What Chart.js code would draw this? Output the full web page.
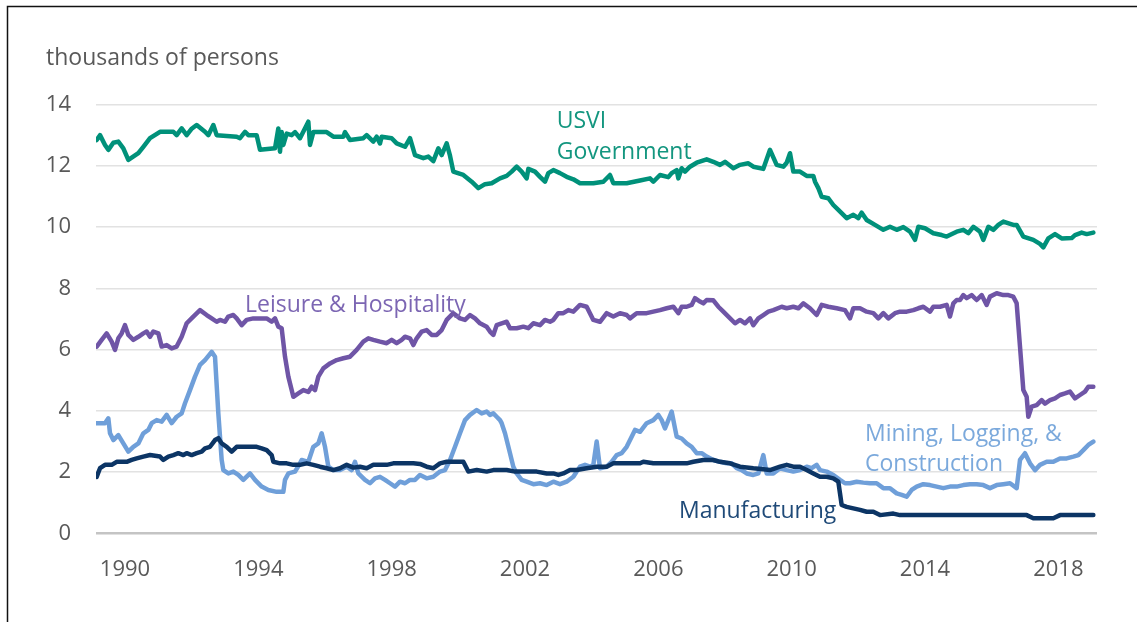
<!DOCTYPE html>
<html>
<head>
<meta charset="utf-8">
<title>USVI employment by sector</title>
<script src="https://cdn.jsdelivr.net/npm/chart.js@4"></script>
<style>
    html, body { margin: 0; padding: 0; background: #fff; }
    #wrap { position: relative; width: 1137px; height: 622px; }
</style>
</head>
<body>
<div id="wrap"><canvas id="myChart" width="1137" height="622"></canvas></div>
<script>
// values, thousands of persons
var xTickYears = [1990, 1994, 1998, 2002, 2006, 2010, 2014, 2018];
var yTickValues = [0, 2, 4, 6, 8, 10, 12, 14];

var govYears = [1989.15, 1989.25, 1989.40, 1989.50, 1989.65, 1989.80, 1989.95, 1990.10, 1990.40, 1990.55, 1990.75, 1991.05, 1991.45, 1991.55, 1991.70, 1991.85, 1991.99, 1992.15, 1992.40, 1992.50, 1992.65, 1992.75, 1993.35, 1993.45, 1993.60, 1993.70, 1993.95, 1994.05, 1994.50, 1994.60, 1994.65, 1994.70, 1994.75, 1994.85, 1995.00, 1995.10, 1995.25, 1995.50, 1995.55, 1995.65, 1996.05, 1996.25, 1996.55, 1996.60, 1996.75, 1997.15, 1997.25, 1997.45, 1997.55, 1997.65, 1997.70, 1998.00, 1998.15, 1998.40, 1998.55, 1998.70, 1998.95, 1999.10, 1999.25, 1999.40, 1999.50, 1999.65, 1999.75, 1999.85, 2000.15, 2000.40, 2000.60, 2000.80, 2001.00, 2001.25, 2001.45, 2001.60, 2001.75, 2001.90, 2002.05, 2002.10, 2002.30, 2002.45, 2002.60, 2002.70, 2002.85, 2003.05, 2003.25, 2003.45, 2003.65, 2004.05, 2004.35, 2004.55, 2004.65, 2005.05, 2005.45, 2005.75, 2005.85, 2006.05, 2006.30, 2006.40, 2006.55, 2006.60, 2006.70, 2006.80, 2006.95, 2007.15, 2007.45, 2007.65, 2007.85, 2008.00, 2008.25, 2008.45, 2008.70, 2008.85, 2009.15, 2009.35, 2009.55, 2009.75, 2009.85, 2009.95, 2010.05, 2010.25, 2010.45, 2010.65, 2010.70, 2010.80, 2010.90, 2011.10, 2011.25, 2011.40, 2011.65, 2011.85, 2012.00, 2012.10, 2012.25, 2012.50, 2012.75, 2012.95, 2013.15, 2013.35, 2013.55, 2013.70, 2013.80, 2014.00, 2014.25, 2014.50, 2014.65, 2014.95, 2015.15, 2015.30, 2015.45, 2015.65, 2015.75, 2015.90, 2016.05, 2016.20, 2016.35, 2016.65, 2016.75, 2016.95, 2017.25, 2017.45, 2017.55, 2017.70, 2017.90, 2018.10, 2018.40, 2018.50, 2018.70, 2018.85, 2019.05];
var govValues = [12.84, 13.0, 12.68, 12.52, 12.75, 12.79, 12.57, 12.19, 12.41, 12.62, 12.90, 13.11, 13.11, 13.0, 13.22, 13.0, 13.2, 13.33, 13.11, 13.0, 13.33, 13.0, 12.95, 12.9, 13.11, 13.0, 13.0, 12.52, 12.57, 13.22, 12.46, 13.1, 12.68, 13.05, 13.0, 13.1, 12.9, 13.44, 12.68, 13.1, 13.1, 12.95, 12.95, 13.1, 12.84, 12.9, 13.0, 12.79, 12.95, 12.73, 12.95, 12.9, 12.73, 12.62, 12.9, 12.35, 12.25, 12.3, 12.15, 12.57, 12.35, 12.73, 12.33, 11.81, 11.70, 11.48, 11.27, 11.40, 11.43, 11.59, 11.67, 11.81, 11.97, 11.81, 11.59, 11.9, 11.81, 11.64, 11.48, 11.76, 11.86, 11.76, 11.64, 11.56, 11.43, 11.43, 11.48, 11.70, 11.43, 11.43, 11.52, 11.59, 11.48, 11.70, 11.63, 11.76, 11.86, 11.59, 11.92, 11.81, 11.97, 12.1, 12.21, 12.13, 12.03, 12.13, 11.92, 12.03, 12.08, 11.97, 11.90, 12.52, 12.03, 11.97, 12.1, 12.41, 11.81, 11.81, 11.67, 11.67, 11.48, 11.27, 10.99, 10.94, 10.72, 10.56, 10.29, 10.4, 10.29, 10.47, 10.23, 10.07, 9.91, 10.01, 9.91, 10.0, 9.85, 9.58, 10.01, 9.96, 9.80, 9.74, 9.69, 9.85, 9.91, 9.80, 10.01, 9.85, 9.58, 10.01, 9.91, 10.07, 10.18, 10.07, 10.07, 9.69, 9.58, 9.45, 9.34, 9.63, 9.77, 9.63, 9.64, 9.74, 9.82, 9.77, 9.82];

var leisureYears = [1989.15, 1989.30, 1989.45, 1989.60, 1989.70, 1989.80, 1989.90, 1990.00, 1990.10, 1990.25, 1990.40, 1990.55, 1990.65, 1990.75, 1990.85, 1991.00, 1991.10, 1991.25, 1991.40, 1991.55, 1991.70, 1991.85, 1992.05, 1992.25, 1992.45, 1992.60, 1992.75, 1992.85, 1993.00, 1993.10, 1993.25, 1993.35, 1993.50, 1993.65, 1993.85, 1994.05, 1994.25, 1994.40, 1994.50, 1994.60, 1994.70, 1994.80, 1994.90, 1995.05, 1995.20, 1995.35, 1995.50, 1995.60, 1995.70, 1995.80, 1995.95, 1996.15, 1996.35, 1996.55, 1996.75, 1996.95, 1997.15, 1997.30, 1997.45, 1997.65, 1997.85, 1998.00, 1998.15, 1998.30, 1998.40, 1998.55, 1998.65, 1998.75, 1998.90, 1999.05, 1999.20, 1999.35, 1999.50, 1999.65, 1999.85, 2000.05, 2000.20, 2000.35, 2000.50, 2000.65, 2000.85, 2000.95, 2001.05, 2001.15, 2001.30, 2001.45, 2001.55, 2001.75, 2001.95, 2002.10, 2002.25, 2002.45, 2002.60, 2002.75, 2002.85, 2003.00, 2003.15, 2003.30, 2003.45, 2003.65, 2003.85, 2004.05, 2004.25, 2004.45, 2004.65, 2004.85, 2005.05, 2005.15, 2005.35, 2005.65, 2005.85, 2006.05, 2006.25, 2006.45, 2006.60, 2006.70, 2006.85, 2007.00, 2007.10, 2007.25, 2007.35, 2007.45, 2007.65, 2007.80, 2007.95, 2008.10, 2008.30, 2008.45, 2008.60, 2008.75, 2008.85, 2009.00, 2009.15, 2009.30, 2009.45, 2009.70, 2009.85, 2010.05, 2010.20, 2010.35, 2010.55, 2010.75, 2010.90, 2011.10, 2011.35, 2011.60, 2011.75, 2011.85, 2012.05, 2012.25, 2012.45, 2012.60, 2012.75, 2012.90, 2013.10, 2013.25, 2013.45, 2013.65, 2013.80, 2013.95, 2014.15, 2014.25, 2014.45, 2014.65, 2014.75, 2014.85, 2014.95, 2015.05, 2015.15, 2015.25, 2015.40, 2015.55, 2015.70, 2015.85, 2015.95, 2016.15, 2016.35, 2016.50, 2016.65, 2016.75, 2016.85, 2016.95, 2017.05, 2017.10, 2017.20, 2017.35, 2017.50, 2017.60, 2017.75, 2017.90, 2018.05, 2018.20, 2018.35, 2018.50, 2018.65, 2018.80, 2018.90, 2019.05];
var leisureValues = [6.10, 6.32, 6.53, 6.26, 5.99, 6.37, 6.53, 6.80, 6.48, 6.32, 6.42, 6.53, 6.59, 6.42, 6.59, 6.53, 6.10, 6.15, 6.04, 6.10, 6.42, 6.86, 7.08, 7.29, 7.13, 7.02, 6.91, 6.97, 6.91, 7.08, 7.13, 7.02, 6.80, 6.97, 7.02, 7.02, 7.02, 6.91, 7.02, 6.75, 6.70, 5.77, 5.12, 4.46, 4.57, 4.68, 4.62, 4.79, 4.68, 5.12, 5.39, 5.55, 5.66, 5.72, 5.77, 5.99, 6.26, 6.37, 6.32, 6.26, 6.21, 6.32, 6.21, 6.32, 6.42, 6.37, 6.15, 6.37, 6.59, 6.64, 6.48, 6.48, 6.64, 6.97, 7.19, 7.02, 6.97, 7.13, 7.02, 6.86, 6.75, 6.59, 6.48, 6.80, 6.86, 6.91, 6.70, 6.70, 6.75, 6.70, 6.86, 6.80, 6.97, 6.91, 6.97, 7.19, 7.19, 7.29, 7.24, 7.46, 7.40, 6.97, 6.91, 7.19, 7.08, 7.19, 7.13, 7.02, 7.19, 7.19, 7.24, 7.29, 7.35, 7.40, 7.19, 7.40, 7.40, 7.46, 7.68, 7.57, 7.51, 7.62, 7.61, 7.40, 7.24, 7.08, 6.86, 6.97, 6.86, 7.02, 6.80, 7.02, 7.13, 7.24, 7.29, 7.40, 7.35, 7.40, 7.35, 7.51, 7.35, 7.13, 7.46, 7.40, 7.35, 7.29, 7.02, 7.35, 7.35, 7.24, 7.19, 7.02, 7.19, 7.02, 7.19, 7.24, 7.24, 7.29, 7.35, 7.40, 7.24, 7.40, 7.40, 7.46, 7.08, 7.51, 7.62, 7.62, 7.78, 7.68, 7.78, 7.62, 7.78, 7.46, 7.73, 7.84, 7.78, 7.78, 7.73, 7.51, 6.10, 4.68, 4.46, 3.81, 4.14, 4.19, 4.35, 4.24, 4.35, 4.41, 4.52, 4.57, 4.63, 4.41, 4.52, 4.63, 4.79, 4.79];

var miningYears = [1989.15, 1989.40, 1989.50, 1989.55, 1989.65, 1989.80, 1989.95, 1990.10, 1990.25, 1990.40, 1990.55, 1990.70, 1990.80, 1990.95, 1991.10, 1991.25, 1991.40, 1991.55, 1991.70, 1991.80, 1991.95, 1992.10, 1992.25, 1992.40, 1992.60, 1992.70, 1992.80, 1992.90, 1992.95, 1993.10, 1993.25, 1993.40, 1993.55, 1993.75, 1993.90, 1994.10, 1994.30, 1994.55, 1994.75, 1994.80, 1994.90, 1995.10, 1995.25, 1995.30, 1995.50, 1995.65, 1995.80, 1995.90, 1996.00, 1996.10, 1996.25, 1996.45, 1996.65, 1996.80, 1996.90, 1997.00, 1997.20, 1997.35, 1997.50, 1997.65, 1997.80, 1997.95, 1998.10, 1998.25, 1998.40, 1998.55, 1998.70, 1998.85, 1999.05, 1999.25, 1999.45, 1999.60, 1999.75, 1999.90, 2000.05, 2000.20, 2000.35, 2000.55, 2000.70, 2000.85, 2000.95, 2001.05, 2001.15, 2001.25, 2001.30, 2001.40, 2001.55, 2001.65, 2001.75, 2001.90, 2002.05, 2002.25, 2002.45, 2002.65, 2002.85, 2003.05, 2003.25, 2003.45, 2003.55, 2003.65, 2003.80, 2003.95, 2004.05, 2004.15, 2004.25, 2004.45, 2004.60, 2004.75, 2004.90, 2005.05, 2005.20, 2005.30, 2005.45, 2005.65, 2005.85, 2006.00, 2006.10, 2006.20, 2006.30, 2006.40, 2006.50, 2006.55, 2006.70, 2006.85, 2007.00, 2007.15, 2007.30, 2007.45, 2007.65, 2007.85, 2008.05, 2008.20, 2008.35, 2008.50, 2008.65, 2008.85, 2009.00, 2009.15, 2009.25, 2009.45, 2009.65, 2009.85, 2010.05, 2010.25, 2010.45, 2010.60, 2010.75, 2010.85, 2011.05, 2011.25, 2011.45, 2011.60, 2011.75, 2011.95, 2012.15, 2012.35, 2012.55, 2012.75, 2012.95, 2013.15, 2013.30, 2013.45, 2013.60, 2013.75, 2013.95, 2014.15, 2014.35, 2014.55, 2014.75, 2014.95, 2015.15, 2015.35, 2015.55, 2015.75, 2015.95, 2016.15, 2016.35, 2016.55, 2016.75, 2016.85, 2017.00, 2017.15, 2017.30, 2017.45, 2017.65, 2017.85, 2018.05, 2018.25, 2018.45, 2018.60, 2018.75, 2018.90, 2019.05];
var miningValues = [3.60, 3.60, 3.76, 3.27, 3.05, 3.21, 2.94, 2.67, 2.83, 2.94, 3.27, 3.38, 3.60, 3.70, 3.65, 3.87, 3.60, 3.81, 3.92, 4.25, 4.68, 5.12, 5.50, 5.66, 5.93, 5.77, 3.92, 2.40, 2.07, 1.96, 2.02, 1.91, 1.75, 1.96, 1.75, 1.53, 1.42, 1.36, 1.36, 1.75, 1.96, 2.02, 2.29, 2.40, 2.34, 2.83, 2.94, 3.27, 2.83, 2.18, 2.07, 2.07, 2.18, 2.07, 2.34, 1.96, 1.75, 1.64, 1.80, 1.85, 1.75, 1.64, 1.53, 1.69, 1.64, 1.75, 1.75, 1.91, 1.80, 1.85, 2.02, 2.07, 2.40, 2.83, 3.27, 3.70, 3.87, 4.03, 3.92, 3.98, 3.87, 3.92, 3.81, 3.70, 3.60, 3.27, 2.62, 2.18, 1.96, 1.75, 1.69, 1.61, 1.64, 1.58, 1.69, 1.61, 1.69, 1.85, 2.02, 2.18, 2.24, 2.18, 2.24, 3.0, 2.13, 2.18, 2.34, 2.56, 2.62, 2.83, 3.16, 3.38, 3.32, 3.60, 3.70, 3.87, 3.70, 3.43, 3.70, 3.98, 3.43, 3.16, 3.10, 2.94, 2.83, 2.62, 2.62, 2.51, 2.40, 2.34, 2.29, 2.29, 2.13, 2.07, 1.96, 1.91, 1.96, 2.56, 1.96, 1.96, 2.13, 2.07, 2.02, 2.07, 2.18, 2.13, 2.24, 2.07, 2.02, 1.91, 1.75, 1.64, 1.64, 1.69, 1.66, 1.64, 1.64, 1.48, 1.48, 1.31, 1.26, 1.20, 1.42, 1.53, 1.61, 1.58, 1.53, 1.48, 1.53, 1.53, 1.58, 1.61, 1.61, 1.58, 1.48, 1.58, 1.61, 1.64, 1.48, 2.40, 2.62, 2.29, 2.07, 2.24, 2.34, 2.34, 2.45, 2.45, 2.51, 2.56, 2.72, 2.89, 3.0];

var mfgYears = [1989.15, 1989.25, 1989.40, 1989.60, 1989.75, 1990.05, 1990.20, 1990.35, 1990.55, 1990.75, 1991.05, 1991.15, 1991.30, 1991.45, 1991.60, 1991.75, 1991.85, 1992.00, 1992.15, 1992.30, 1992.40, 1992.55, 1992.70, 1992.80, 1992.90, 1993.05, 1993.20, 1993.35, 1993.55, 1993.75, 1993.95, 1994.10, 1994.25, 1994.40, 1994.45, 1994.65, 1994.85, 1995.05, 1995.25, 1995.45, 1995.65, 1995.85, 1996.05, 1996.25, 1996.45, 1996.65, 1996.85, 1997.05, 1997.25, 1997.45, 1997.65, 1997.85, 1998.05, 1998.25, 1998.45, 1998.65, 1998.85, 1999.05, 1999.25, 1999.45, 1999.65, 1999.85, 2000.15, 2000.30, 2000.55, 2000.85, 2001.05, 2001.45, 2001.70, 2001.85, 2002.35, 2002.65, 2002.85, 2003.00, 2003.15, 2003.35, 2003.55, 2003.85, 2004.15, 2004.45, 2004.65, 2004.85, 2005.45, 2005.55, 2005.85, 2006.45, 2006.85, 2007.05, 2007.35, 2007.65, 2007.85, 2008.15, 2008.45, 2008.85, 2009.15, 2009.35, 2009.65, 2009.85, 2010.05, 2010.25, 2010.45, 2010.65, 2010.85, 2011.05, 2011.25, 2011.40, 2011.45, 2011.50, 2011.65, 2011.85, 2012.05, 2012.25, 2012.45, 2012.65, 2013.05, 2013.25, 2014.05, 2015.05, 2016.05, 2017.05, 2017.25, 2017.85, 2018.05, 2019.05];
var mfgValues = [1.85, 2.13, 2.24, 2.24, 2.34, 2.34, 2.40, 2.45, 2.51, 2.56, 2.51, 2.40, 2.51, 2.56, 2.62, 2.56, 2.62, 2.56, 2.62, 2.67, 2.78, 2.83, 3.05, 3.11, 2.94, 2.83, 2.67, 2.83, 2.83, 2.83, 2.83, 2.78, 2.72, 2.56, 2.34, 2.29, 2.29, 2.24, 2.24, 2.29, 2.24, 2.18, 2.13, 2.07, 2.13, 2.24, 2.15, 2.18, 2.13, 2.24, 2.24, 2.24, 2.29, 2.29, 2.29, 2.29, 2.27, 2.18, 2.13, 2.29, 2.34, 2.34, 2.34, 2.02, 2.07, 2.02, 2.07, 2.07, 2.02, 2.02, 2.02, 1.96, 1.96, 1.91, 1.96, 2.07, 2.07, 2.13, 2.18, 2.18, 2.29, 2.29, 2.29, 2.34, 2.29, 2.29, 2.29, 2.34, 2.40, 2.40, 2.34, 2.29, 2.18, 2.13, 2.10, 2.07, 2.18, 2.24, 2.18, 2.18, 2.07, 1.96, 1.85, 1.85, 1.80, 1.69, 1.31, 0.93, 0.87, 0.82, 0.77, 0.71, 0.71, 0.60, 0.65, 0.60, 0.60, 0.60, 0.60, 0.60, 0.50, 0.50, 0.60, 0.60];

function toPoints(xs, ys) {
    var pts = [];
    for (var i = 0; i < xs.length; i++) {
        pts.push({ x: xs[i], y: ys[i] });
    }
    return pts;
}

var FONT = "'Open Sans', sans-serif";

// series labels sit on the plot, placed in data units
var seriesLabels = [
    { text: 'USVI', x: 2002.95, y: 13.22, color: '#13967f' },
    { text: 'Government', x: 2002.95, y: 12.22, color: '#13967f' },
    { text: 'Leisure & Hospitality', x: 1993.6, y: 7.23, color: '#7c66b3' },
    { text: 'Mining, Logging, &', x: 2012.2, y: 3.02, color: '#7ba9dc' },
    { text: 'Construction', x: 2012.2, y: 2.04, color: '#7ba9dc' },
    { text: 'Manufacturing', x: 2006.62, y: 0.51, color: '#1f4a78' }
];

const textPlugin = {
    id: 'textPlugin',
    afterDraw: function (chart) {
        var ctx = chart.ctx;
        var xs = chart.scales.x, ys = chart.scales.y;
        ctx.save();
        // frame round the picture
        ctx.strokeStyle = '#111';
        ctx.lineWidth = 1.5;
        ctx.beginPath();
        ctx.moveTo(7.5, 622);
        ctx.lineTo(7.5, 6.5);
        ctx.lineTo(1137, 6.5);
        ctx.stroke();

        ctx.font = '23px ' + FONT;
        ctx.textBaseline = 'alphabetic';
        ctx.textAlign = 'left';
        ctx.fillStyle = '#595959';
        ctx.fillText('thousands of persons', 46, 65);

        ctx.font = '23px ' + FONT;
        seriesLabels.forEach(function (l) {
            ctx.fillStyle = l.color;
            ctx.fillText(l.text, xs.getPixelForValue(l.x), ys.getPixelForValue(l.y));
        });
        ctx.restore();
    }
};

const data = {
    datasets: [{
        label: 'Manufacturing',
        data: toPoints(mfgYears, mfgValues),
        borderColor: '#0c3565'
    }, {
        label: 'Leisure & Hospitality',
        data: toPoints(leisureYears, leisureValues),
        borderColor: '#6f55a6'
    }, {
        label: 'USVI Government',
        data: toPoints(govYears, govValues),
        borderColor: '#00917a'
    }, {
        label: 'Mining, Logging, & Construction',
        data: toPoints(miningYears, miningValues),
        borderColor: '#6f9fd9'
    }]
};

data.datasets.forEach(function (ds) {
    ds.borderWidth = 4.5;
    ds.pointRadius = 0;
    ds.tension = 0;
    ds.fill = false;
    ds.borderJoinStyle = 'round';
    ds.borderCapStyle = 'round';
});

const config = {
    type: 'line',
    data: data,
    options: {
        responsive: false,
        animation: false,
        layout: {
            padding: { top: 104.5, right: 40, bottom: 0, left: 0 }
        },
        plugins: {
            legend: { display: false },
            tooltip: { enabled: false }
        },
        scales: {
            x: {
                type: 'linear',
                min: 1989.13,
                max: 2019.16,
                border: { display: false },
                grid: { display: false, drawTicks: false },
                afterBuildTicks: function (scale) {
                    scale.ticks = xTickYears.map(function (v) { return { value: v }; });
                },
                afterFit: function (scale) {
                    scale.height = 88.5;
                },
                ticks: {
                    autoSkip: false,
                    maxRotation: 0,
                    padding: 23,
                    color: '#595959',
                    font: { family: FONT, size: 22 },
                    callback: function (v) { return String(v); }
                }
            },
            y: {
                min: 0,
                max: 14,
                border: { display: false },
                afterBuildTicks: function (scale) {
                    scale.ticks = yTickValues.map(function (v) { return { value: v }; });
                },
                afterFit: function (scale) {
                    scale.width = 96;
                },
                grid: {
                    drawTicks: false,
                    color: function (c) { return c.tick && c.tick.value === 0 ? '#c4c4c4' : '#e2e2e2'; },
                    lineWidth: function (c) { return c.tick && c.tick.value === 0 ? 2.5 : 1.5; }
                },
                ticks: {
                    padding: 25,
                    color: '#595959',
                    font: { family: FONT, size: 22 }
                }
            }
        }
    },
    plugins: [textPlugin]
};

var myChart = new Chart(
    document.getElementById('myChart'),
    config
);
</script>
</body>
</html>
